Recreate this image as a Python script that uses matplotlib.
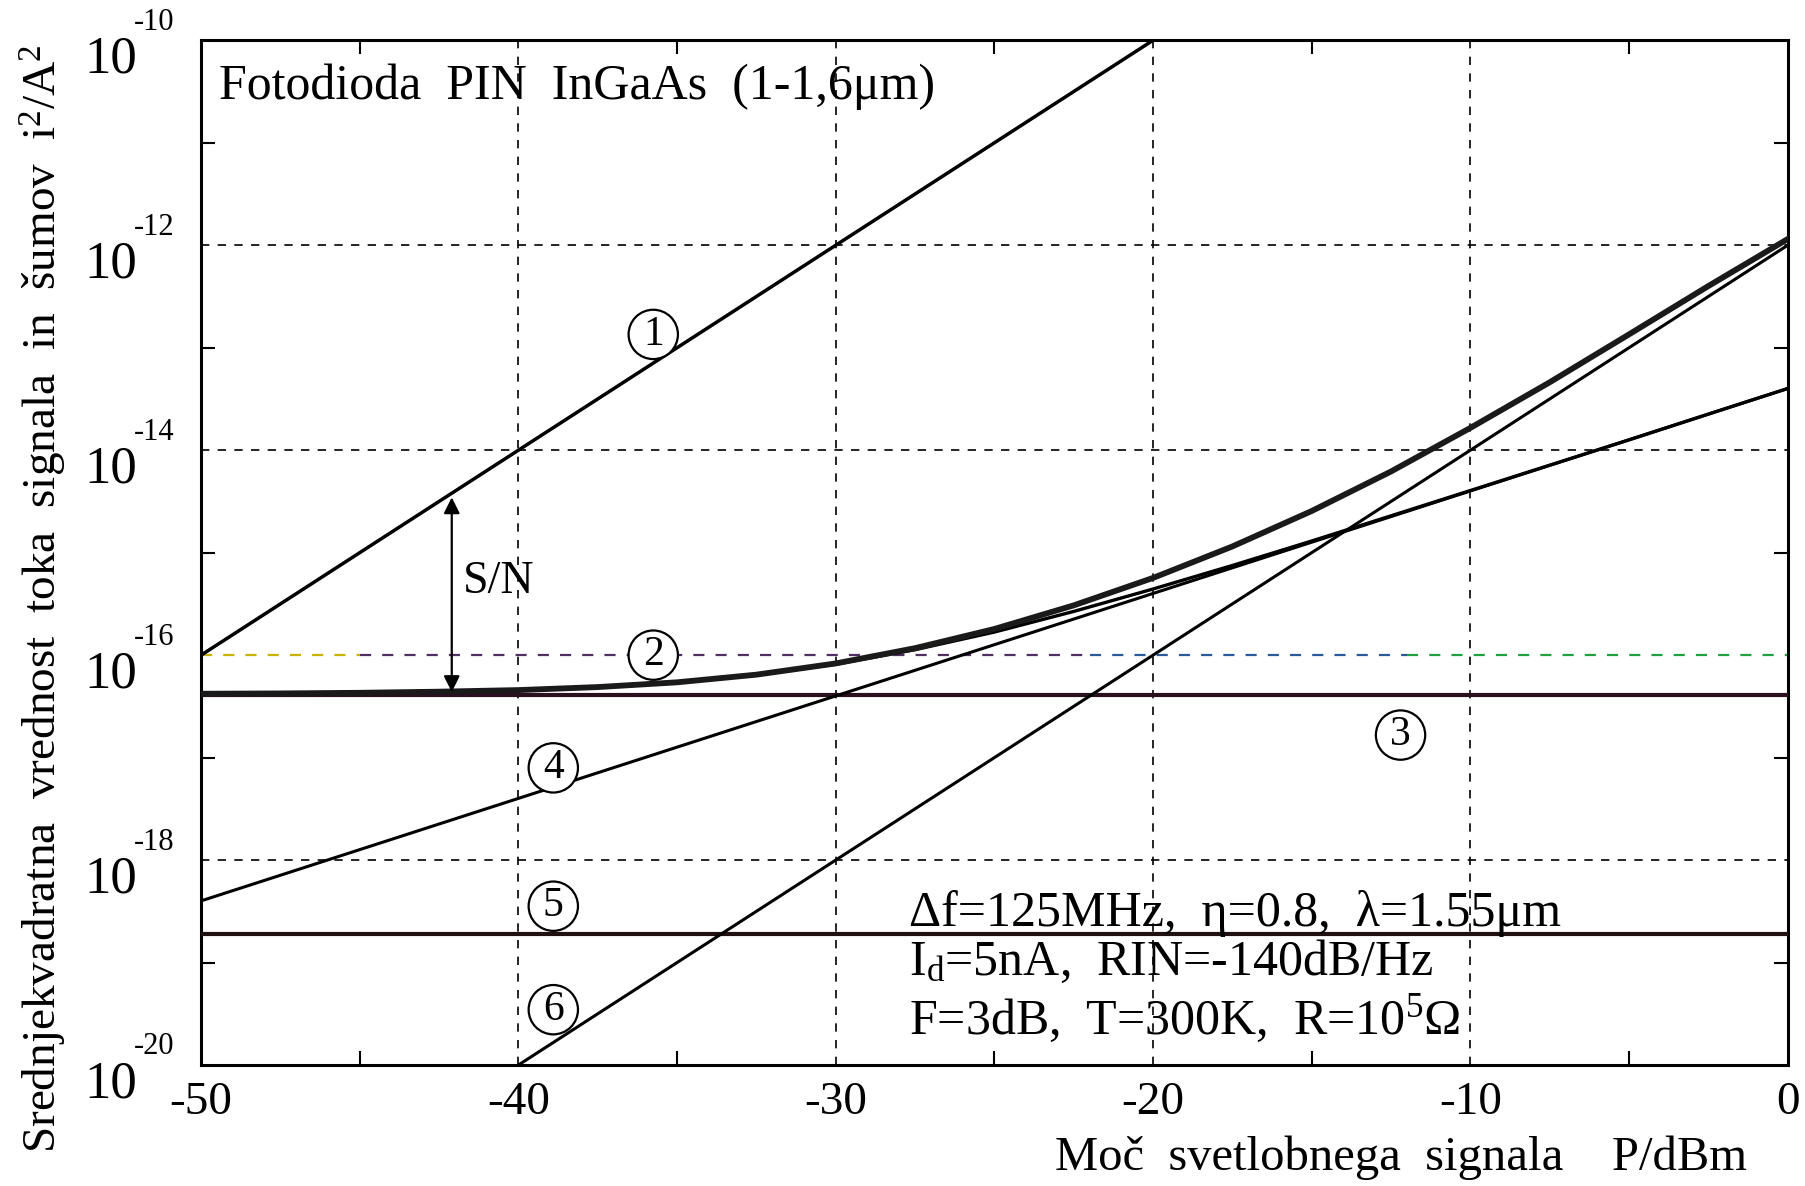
import matplotlib
matplotlib.use("Agg")
import matplotlib.pyplot as plt
import matplotlib.transforms as mtransforms
from matplotlib.ticker import FixedLocator, NullFormatter

plt.rcParams['font.family'] = ['Liberation Serif', 'DejaVu Serif']
plt.rcParams['mathtext.fontset'] = 'custom'
plt.rcParams['mathtext.rm'] = 'Liberation Serif'
plt.rcParams['mathtext.it'] = 'Liberation Serif:italic'
plt.rcParams['axes.unicode_minus'] = False

# values (P in dBm, i^2 in A^2)
p_signal = [-50, -20]
i2_signal = [1e-16, 1e-10]                      # 1: signal

p_total = [-50, -47.5, -45, -42.5, -40, -37.5, -35, -32.5, -30, -27.5, -25,
           -22.5, -20, -17.5, -15, -12.5, -10, -7.5, -5, -2.5, 0]
i2_total = [4.2e-17, 4.23e-17, 4.29e-17, 4.4e-17, 4.56e-17, 4.88e-17,
            5.43e-17, 6.45e-17, 8.3e-17, 1.17e-16, 1.8e-16, 3.06e-16,
            5.67e-16, 1.15e-15, 2.55e-15, 6.2e-15, 1.65e-14, 4.6e-14,
            1.35e-13, 4.0e-13, 1.15e-12]                      # 2: total noise
i2_th_shot = [4.2e-17, 4.23e-17, 4.29e-17, 4.39e-17, 4.56e-17, 4.87e-17,
              5.42e-17, 6.41e-17, 8.16e-17, 1.13e-16, 1.68e-16, 2.67e-16,
              4.42e-16, 7.5e-16, 1.3e-15, 2.29e-15, 4.04e-15, 7.14e-15,
              1.26e-14, 2.25e-14, 4.0e-14]                    # thermal + shot

p_flat = [-50, 0]
i2_thermal = [4.1e-17, 4.1e-17]                 # 3: thermal
i2_dark = [1.9e-19, 1.9e-19]                    # 5: dark current
p_shot = [-50, 0]
i2_shot = [4.0e-19, 4.0e-14]                    # 4: shot noise
p_rin = [-40, 0]
i2_rin = [1e-20, 1e-12]                         # 6: RIN

x_ticks = [-50, -40, -30, -20, -10, 0]
x_minor = [-45, -35, -25, -15, -5]
y_exp = [-20, -18, -16, -14, -12, -10]
y_minor_exp = [-19, -17, -15, -13, -11]

fig = plt.figure(figsize=(18.05, 11.86), dpi=100)
ax = fig.add_axes([0.1114, 0.102, 0.879, 0.864])
ax.set_yscale('log')
ax.set_xlim(-50, 0)
ax.set_ylim(1e-20, 1e-10)

dash = (0, (5, 5))
for xv in x_ticks[1:-1]:
    ax.axvline(xv, color='black', lw=1.2, ls=dash, zorder=1)
for e in y_exp[1:-1]:
    if e == -16:
        continue
    ax.axhline(10.0 ** e, color='black', lw=1.2, ls=dash, zorder=1)
# coloured dashed line at 1e-16
ax.plot([-50, -45], [1e-16, 1e-16], color='#c8b400', lw=1.6, ls=dash, zorder=1)
ax.plot([-45, -22], [1e-16, 1e-16], color='#503060', lw=1.6, ls=dash, zorder=1)
ax.plot([-22, -12], [1e-16, 1e-16], color='#2a5a9a', lw=1.6, ls=dash, zorder=1)
ax.plot([-12, 0], [1e-16, 1e-16], color='#20a040', lw=1.6, ls=dash, zorder=1)

ax.plot(p_signal, i2_signal, color='black', lw=2.5, zorder=3)
ax.plot(p_flat, i2_thermal, color='#2a1020', lw=3.0, zorder=3)
ax.plot(p_flat, i2_dark, color='#201010', lw=3.0, zorder=3)
ax.plot(p_shot, i2_shot, color='black', lw=2.2, zorder=3)
ax.plot(p_rin, i2_rin, color='black', lw=2.2, zorder=3)
ax.plot(p_total, i2_th_shot, color='black', lw=2.4, zorder=3)
ax.plot(p_total, i2_total, color='#1a1a1a', lw=4.2, zorder=4)

ax.xaxis.set_major_locator(FixedLocator(x_ticks))
ax.xaxis.set_minor_locator(FixedLocator(x_minor))
ax.set_xticklabels([str(v) for v in x_ticks])
ax.yaxis.set_major_locator(FixedLocator([10.0 ** e for e in y_exp]))
ax.yaxis.set_minor_locator(FixedLocator([10.0 ** e for e in y_minor_exp]))
ax.yaxis.set_minor_formatter(NullFormatter())
ax.set_yticklabels(['10' for e in y_exp])
ax.tick_params(which='both', direction='in', top=True, right=True, width=1.5)
ax.tick_params(which='major', length=0)
ax.tick_params(which='minor', length=10)
ax.tick_params(axis='x', which='major', labelsize=34, pad=12)
ax.tick_params(axis='y', which='major', labelsize=38, pad=46)
shift = mtransforms.ScaledTranslation(0, -10 / 72, fig.dpi_scale_trans)
for lab in ax.get_yticklabels():
    lab.set_transform(lab.get_transform() + shift)
# exponents of the y tick labels
exp_tr = ax.get_yaxis_transform() + mtransforms.ScaledTranslation(
    -19 / 72, 13 / 72, fig.dpi_scale_trans)
for e in y_exp:
    ax.text(0, 10.0 ** e, str(e), transform=exp_tr, fontsize=22,
            ha='right', va='center', clip_on=False)
for s in ax.spines.values():
    s.set_linewidth(2.2)

ax.text(-49.45, 10 ** -10.45, 'Fotodioda  PIN  InGaAs  (1-1,6μm)',
        fontsize=36, va='center', ha='left')
ax.text(-27.7, 10 ** -18.52, 'Δf=125MHz,  η=0.8,  λ=1.55μm',
        fontsize=36, va='center', ha='left')
ax.text(-27.7, 10 ** -19.0, r'I$_{\rm d}$=5nA,  RIN=-140dB/Hz',
        fontsize=36, va='center', ha='left')
ax.text(-27.7, 10 ** -19.55, r'F=3dB,  T=300K,  R=10$^{5}$Ω',
        fontsize=36, va='center', ha='left')

circ = dict(boxstyle='circle,pad=0.13', fc='white', ec='black', lw=1.6)
labels = [('1', -35.75, -12.87), ('2', -35.75, -16.0), ('3', -12.2, -16.78),
          ('4', -38.9, -17.1), ('5', -38.9, -18.45), ('6', -38.9, -19.46)]
for t, xv, e in labels:
    ax.text(xv, 10 ** e, t, fontsize=30, ha='center', va='center',
            bbox=circ, zorder=6)

ax.annotate('', xy=(-42.1, 10 ** -16.36), xytext=(-42.1, 10 ** -14.46),
            arrowprops=dict(arrowstyle='<|-|>', color='black', lw=1.6,
                            mutation_scale=24, shrinkA=0, shrinkB=0), zorder=5)
ax.text(-41.75, 10 ** -15.28, 'S/N', fontsize=33, ha='left', va='center')

fig.text(0.968, 0.024, 'Moč  svetlobnega  signala    P/dBm', fontsize=35,
         ha='right', va='center')
fig.text(0.0242, 0.495,
         'Srednjekvadratna  vrednost  toka  signala  in  šumov  i$^{2}$/A$^{2}$',
         fontsize=34, ha='center', va='center', rotation=90)

fig.savefig('out.png', dpi=100)
